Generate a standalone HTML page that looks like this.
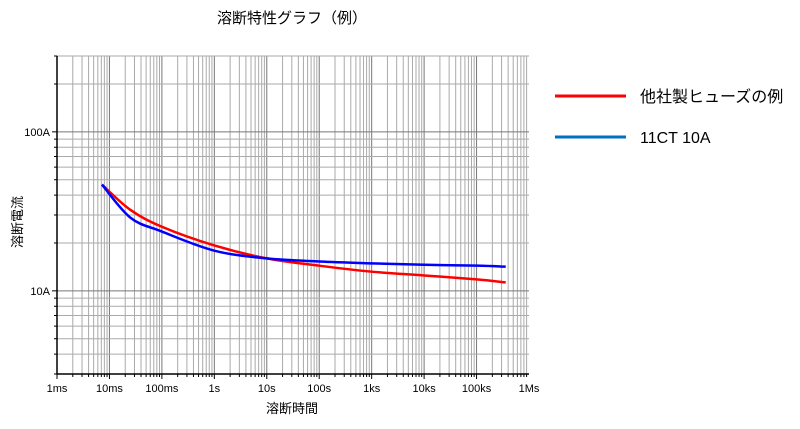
<!DOCTYPE html>
<html><head><meta charset="utf-8"><style>
body{margin:0;background:#fff;}
svg{display:block;font-family:"Liberation Sans","Noto Sans CJK JP",sans-serif;}
</style></head><body>
<svg id="chart" width="800" height="429" xmlns="http://www.w3.org/2000/svg">
<text x="292" y="23" font-size="15" text-anchor="middle">溶断特性グラフ（例）</text>
<g id="grid"></g>
<g id="axes"></g>
<g id="series"></g>
<text x="292" y="413" font-size="13" text-anchor="middle">溶断時間</text>
<text transform="translate(22,222) rotate(-90)" font-size="13" text-anchor="middle">溶断電流</text>
<g>
<line x1="555" y1="96" x2="626" y2="96" stroke="#ff0000" stroke-width="3"/>
<text x="640" y="102" font-size="16">他社製ヒューズの例</text>
<line x1="555" y1="137" x2="626" y2="137" stroke="#0070c0" stroke-width="3"/>
<text x="640" y="143" font-size="16">11CT 10A</text>
</g>
</svg>
<script>
const xTickValues=[1e-3,1e-2,1e-1,1,10,100,1e3,1e4,1e5,1e6];
const xTickLabels=["1ms","10ms","100ms","1s","10s","100s","1ks","10ks","100ks","1Ms"];
const yTickValues=[10,100];
const yTickLabels=["10A","100A"];
const timesOther=[0.0072,0.0248,0.1,1,10,100,1000,10000,100000,360000];
const currentOther=[46.6,32.4,25.3,19.3,16.0,14.4,13.2,12.5,11.8,11.3];
const times11CT=[0.0072,0.025,0.1,1,10,100,1000,10000,100000,360000];
const current11CT=[46.6,28.9,23.6,17.9,16.0,15.3,14.9,14.6,14.4,14.2];

const L=57,R=529,T=56,B=374,xmin=1e-3,xmax=1e6,ymin=3,ymax=300;
function X(t){return L+(R-L)*(Math.log10(t)-Math.log10(xmin))/(Math.log10(xmax)-Math.log10(xmin));}
function Y(a){return B-(B-T)*(Math.log10(a)-Math.log10(ymin))/(Math.log10(ymax)-Math.log10(ymin));}
const NS="http://www.w3.org/2000/svg";
function mk(tag,attrs,parent){const e=document.createElementNS(NS,tag);for(const k in attrs)e.setAttribute(k,attrs[k]);parent.appendChild(e);return e;}
const grid=document.getElementById('grid'),axes=document.getElementById('axes'),series=document.getElementById('series');
for(let d=-3;d<6;d++){for(let m=1;m<10;m++){const t=m*Math.pow(10,d);const x=X(t);
const l=mk('line',{x1:x,y1:T,x2:x,y2:B,stroke:m==1?'#777':'#aaa','stroke-width':1},grid);


const tk=mk('line',{x1:x,y1:B,x2:x,y2:B+(m==1?5:3),stroke:'#000'},axes);

}}
for(let d=0;d<3;d++){for(let m=1;m<10;m++){const a=m*Math.pow(10,d);if(a<ymin||a>ymax)continue;const y=Y(a);
const l=mk('line',{x1:L,y1:y,x2:R,y2:y,stroke:m==1?'#777':'#aaa','stroke-width':1},grid);


const tk=mk('line',{x1:L-(m==1?5:3),y1:y,x2:L,y2:y,stroke:'#000'},axes);

}}
const ax=mk('path',{d:`M${L},${T}V${B}H${R}`,fill:'none',stroke:'#000','stroke-width':1.5},axes);


xTickValues.forEach((v,i)=>{const t=mk('text',{x:X(v),y:B+18,'font-size':11,'text-anchor':'middle'},axes);t.textContent=xTickLabels[i];

});
yTickValues.forEach((v,i)=>{const t=mk('text',{x:L-7,y:Y(v)+4,'font-size':11,'text-anchor':'end'},axes);t.textContent=yTickLabels[i];

});
function path(ts,as){const p=ts.map((t,i)=>[X(t),Y(as[i])]);let d=`M${p[0][0]},${p[0][1]}`;
for(let i=0;i<p.length-1;i++){const p0=p[i-1]||p[i],p1=p[i],p2=p[i+1],p3=p[i+2]||p2;
const c1=[p1[0]+(p2[0]-p0[0])/6,p1[1]+(p2[1]-p0[1])/6],c2=[p2[0]-(p3[0]-p1[0])/6,p2[1]-(p3[1]-p1[1])/6];
d+=`C${c1[0]},${c1[1]} ${c2[0]},${c2[1]} ${p2[0]},${p2[1]}`;}return d;}
const s1=mk('path',{d:path(timesOther,currentOther),fill:'none',stroke:'#ff0000','stroke-width':2.5},series);


const s2=mk('path',{d:path(times11CT,current11CT),fill:'none',stroke:'#0000ff','stroke-width':2.5},series);


</script>
</body></html>
